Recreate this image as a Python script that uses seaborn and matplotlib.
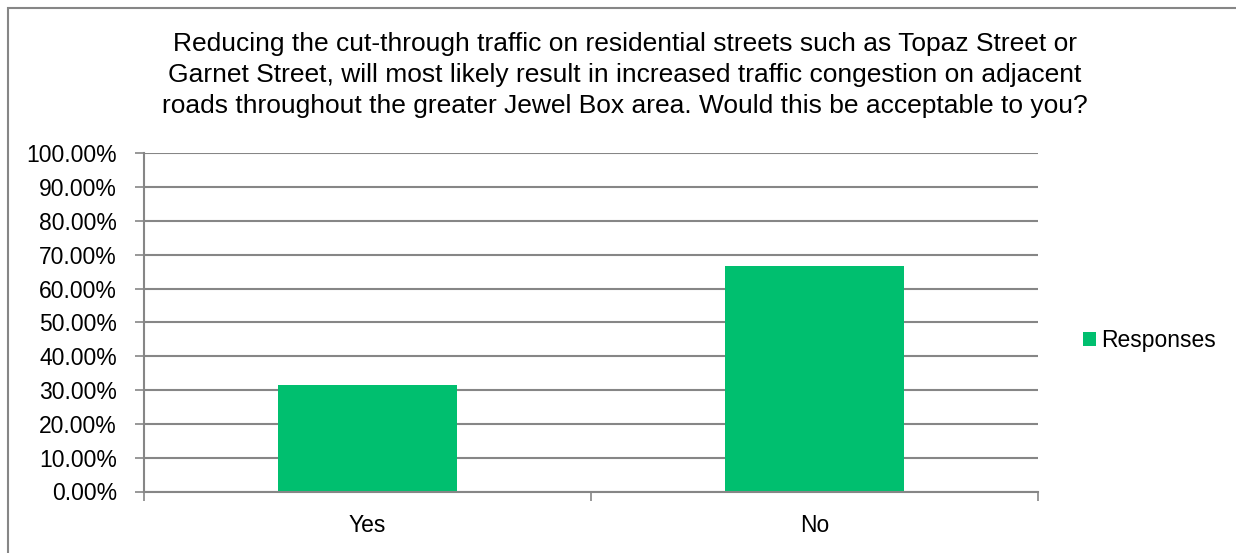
import pandas as pd
import seaborn as sns
import matplotlib.pyplot as plt
from matplotlib.patches import Rectangle
from matplotlib.ticker import FuncFormatter, FixedLocator

# values
answers = ["Yes", "No"]
responses = [31.48, 66.67]
series_name = "Responses"
title = ("Reducing the cut-through traffic on residential streets such as Topaz Street or\n"
         "Garnet Street, will most likely result in increased traffic congestion on adjacent\n"
         "roads throughout the greater Jewel Box area. Would this be acceptable to you?")

df = pd.DataFrame({"answer": answers, "pct": responses, "series": series_name})

sns.set_theme(style="white")
plt.rcParams['font.family'] = ['Liberation Sans', 'DejaVu Sans']
plt.rcParams['text.color'] = 'black'

W, H = 1236, 553
fig = plt.figure(figsize=(W / 100, H / 100), dpi=100)
ax = fig.add_axes([143.5 / W, 1 - 491.5 / H, (1038 - 143.5) / W, (491.5 - 153.4) / H])

grey = "#868686"
sns.barplot(data=df, x="answer", y="pct", hue="series", palette=["#00BF6F"],
            width=0.4, dodge=False, saturation=1, linewidth=0, ax=ax)

ax.set_ylim(0, 100)
ax.set_xlim(-0.5, 1.5)
ax.set_yticks(range(0, 101, 10))
ax.yaxis.set_major_formatter(FuncFormatter(lambda v, p: f"{v:.2f}%"))
ax.yaxis.grid(True, color=grey, linewidth=1.5)
ax.set_axisbelow(True)
ax.set_xlabel("")
ax.set_ylabel("")

for side in ["top", "right"]:
    ax.spines[side].set_visible(False)
for side in ["left", "bottom"]:
    ax.spines[side].set_color(grey)
    ax.spines[side].set_linewidth(1.5)

ax.tick_params(axis="y", which="major", left=True, length=6.5, width=1.2, color=grey,
               pad=12.5, labelsize=16.5, labelcolor="black")
ax.tick_params(axis="x", which="major", bottom=True, length=0, pad=16, labelsize=16.5,
               labelcolor="black")
ax.xaxis.set_minor_locator(FixedLocator([-0.5, 0.5, 1.5]))
ax.tick_params(axis="x", which="minor", bottom=True, length=6.5, width=1.2, color=grey)

handles, labels = ax.get_legend_handles_labels()
ax.get_legend().remove()
fig.legend(handles, labels, loc="center left", bbox_to_anchor=(1083 / W, 1 - 341 / H),
           frameon=False, borderpad=0, borderaxespad=0, handlelength=0.57,
           handleheight=0.57, handletextpad=0.2, fontsize=16.5, labelcolor="black")

fig.text(625 / W, 1 - 75 / H, title, ha="center", va="center", fontsize=19,
         linespacing=1.36, color="black")

fig.patches.append(Rectangle((8 / W, -0.1), 1.2, 1 - 8 / H + 0.1, transform=fig.transFigure,
                             fill=False, edgecolor=grey, linewidth=1.5, clip_on=False))

fig.savefig("out.png", dpi=100)
